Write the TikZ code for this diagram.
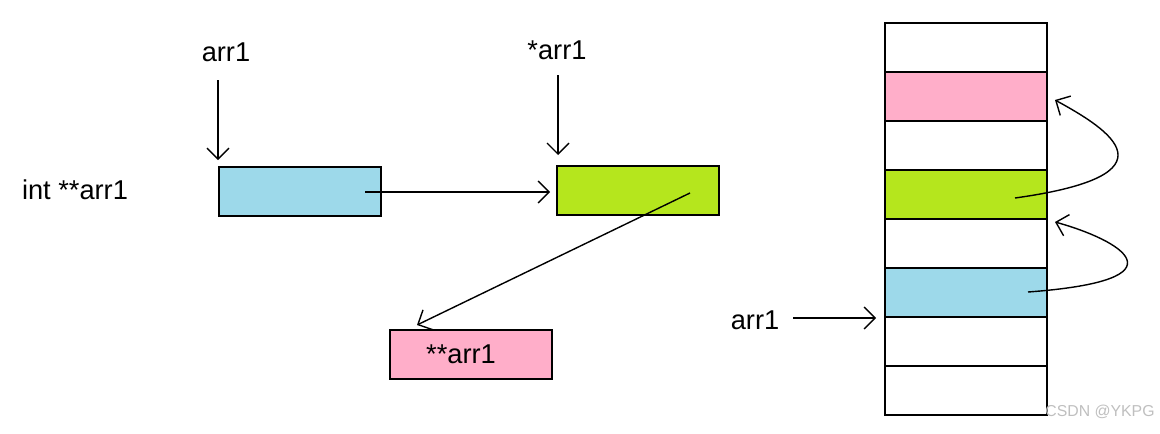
\documentclass[tikz,border=0pt]{standalone}
\usepackage{fontspec}
\setmainfont{Liberation Sans}
\usetikzlibrary{positioning}
\usetikzlibrary{arrows.meta}
\definecolor{cblue}{HTML}{9DD9EA}
\definecolor{cgreen}{HTML}{B5E61D}
\definecolor{cpink}{HTML}{FFAEC9}
\tikzset{
  cell/.style={draw, thick, minimum width=3.24cm, minimum height=0.98cm, inner sep=0pt},
  lbl/.style={font=\fontsize{15.5}{18}\selectfont},
  ptr/.style={->, thick, >={Straight Barb[length=2.2mm]}}
}
\begin{document}
\begin{tikzpicture}[x=0.02cm, y=-0.02cm]
  \useasboundingbox (0,0) rectangle (1160,433);
  % left: pointer chain
  \node[lbl] (decl) at (75,190) {int **arr1};
  \node[cell, fill=cblue] (pp) at (300,191.5) {};
  \node[cell, fill=cgreen] (p) at (638,190.5) {};
  \node[cell, fill=cpink] (v) at (471,354.5) {};
  \node[lbl] (vl) at (461,354) {**arr1};
  \node[lbl] (ppl) at (226,52) {arr1};
  \node[lbl] (pl) at (557,50) {*arr1};
  \coordinate (ppt) at (218,80);
  \coordinate (pt) at (558,75);
  \draw[ptr] (ppt) -- (218,160);
  \draw[ptr] (pt) -- (558,155);
  \draw[ptr] (365,192) -- (550,192);
  \draw[ptr] (690,193) -- (417,325);
  % right: memory column
  \foreach \i/\c in {0/white,1/cpink,2/white,3/cgreen,4/white,5/cblue,6/white,7/white}
    \node[cell, fill=\c] (m\i) at (966,{47.5+49*\i}) {};
  \node[lbl] (al) at (755,320) {arr1};
  \coordinate (as) at (793,318);
  \draw[ptr] (as) -- (876,318);
  \draw[ptr] (1015,198) .. controls (1180,175) and (1110,130) .. (1055,100);
  \draw[ptr] (1028,292) .. controls (1190,280) and (1120,240) .. (1055,222);
  \node[font=\fontsize{9}{10}\selectfont, text=gray!50] (wm) at (1100,412) {CSDN @YKPG};
\end{tikzpicture}
\end{document}
